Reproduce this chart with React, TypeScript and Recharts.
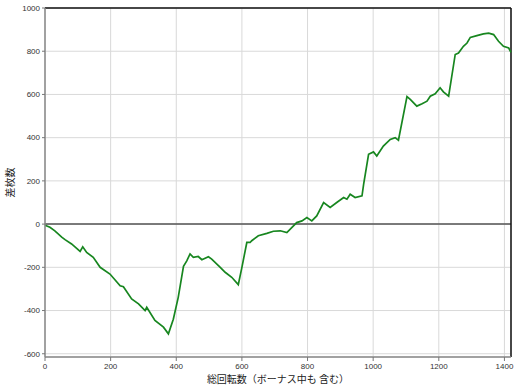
import { LineChart, Line, XAxis, YAxis, CartesianGrid, ReferenceLine } from "recharts";

// 総回転数 (spins) and 差枚数 (coin difference)
const spins = [
  0, 15, 30, 51, 61, 81, 107, 115, 127, 147, 168, 198, 229, 239, 264, 285, 305, 310, 335, 361,
  376, 391, 406, 422, 432, 442, 452, 467, 478, 498, 508, 534, 549, 569, 589, 600, 615, 625, 630,
  650, 676, 696, 717, 737, 767, 783, 798, 813, 828, 849, 869, 889, 910, 920, 930, 945, 966, 971,
  986, 1001, 1011, 1031, 1052, 1067, 1077, 1103, 1113, 1133, 1149, 1164, 1174, 1189, 1204, 1214,
  1230, 1250, 1260, 1275, 1286, 1296, 1316, 1336, 1352, 1367, 1382, 1397, 1413, 1420,
];
const diff = [
  -5, -15, -31, -60, -72, -92, -126, -105, -131, -154, -200, -231, -285, -290, -346, -369, -400,
  -385, -446, -477, -508, -440, -339, -195, -170, -138, -154, -150, -165, -151, -162, -200, -223,
  -246, -280, -200, -85, -85, -77, -54, -43, -33, -31, -39, 7, 15, 30, 15, 38, 100, 77, 100, 123,
  115, 138, 123, 131, 185, 323, 334, 315, 361, 392, 400, 388, 590, 577, 546, 557, 569, 592, 603,
  631, 612, 592, 785, 792, 823, 838, 864, 872, 880, 884, 877, 846, 823, 815, 795,
];

const xTicks = [0, 200, 400, 600, 800, 1000, 1200, 1400];
const yTicks = [-600, -400, -200, 0, 200, 400, 600, 800, 1000];
const xMinor = [0, 100, 200, 300, 400, 500, 600, 700, 800, 900, 1000, 1100, 1200, 1300, 1400];
const yMinor = [-600, -500, -400, -300, -200, -100, 0, 100, 200, 300, 400, 500, 600, 700, 800, 900, 1000];

const data = spins.map((x, i) => ({ x, y: diff[i] }));

const tickStyle = { fontSize: 8, fill: "#333", fontFamily: "Liberation Sans, Arial, sans-serif" };

export default function App() {
  return (
    <div style={{ position: "absolute", left: 0, top: 0, width: 520, height: 390, background: "#fff" }}>
      <LineChart width={520} height={390} data={data} margin={{ top: 8, right: 9, left: 0, bottom: 13 }}>
        <CartesianGrid stroke="#d9d9d9" strokeWidth={1} xAxisId="bottom" yAxisId="left" />
        <XAxis
          xAxisId="bottom"
          dataKey="x"
          type="number"
          domain={[0, 1420]}
          ticks={xTicks}
          tick={tickStyle}
          tickLine={{ stroke: "#777" }}
          tickSize={4}
          axisLine={{ stroke: "#888", strokeWidth: 1.5 }}
          height={20}
          label={{
            value: "総回転数（ボーナス中も 含む）",
            position: "insideBottom",
            offset: -6,
            style: { fontSize: 10, fill: "#222", fontFamily: "Noto Sans CJK JP" },
          }}
        />
        <XAxis
          xAxisId="top"
          orientation="top"
          dataKey="x"
          type="number"
          domain={[0, 1420]}
          ticks={xMinor}
          tick={false}
          mirror
          height={0}
          tickSize={4}
          tickLine={{ stroke: "#222" }}
          axisLine={false}
        />
        <YAxis
          yAxisId="left"
          type="number"
          domain={[-615, 1000]}
          ticks={yTicks}
          tick={tickStyle}
          tickLine={{ stroke: "#777" }}
          tickSize={3}
          axisLine={{ stroke: "#888", strokeWidth: 1.5 }}
          width={45}
          label={{
            value: "差枚数",
            angle: -90,
            position: "insideLeft",
            offset: 10,
            style: { fontSize: 10, fill: "#222", fontFamily: "Noto Sans CJK JP", textAnchor: "middle" },
          }}
        />
        <YAxis
          yAxisId="right"
          orientation="right"
          type="number"
          domain={[-615, 1000]}
          ticks={yMinor}
          tick={false}
          mirror
          width={0}
          tickSize={4}
          tickLine={{ stroke: "#222" }}
          axisLine={false}
        />
        <ReferenceLine xAxisId="bottom" yAxisId="left" y={0} stroke="#555" strokeWidth={1.5} />
        <ReferenceLine xAxisId="bottom" yAxisId="left" y={1000} stroke="#111" strokeWidth={1.5} />
        <ReferenceLine xAxisId="bottom" yAxisId="left" x={1420} stroke="#111" strokeWidth={1.5} />
        <Line
          xAxisId="bottom"
          yAxisId="left"
          type="linear"
          dataKey="y"
          stroke="#17861f"
          strokeWidth={1.7}
          dot={false}
          isAnimationActive={false}
        />
      </LineChart>
    </div>
  );
}
